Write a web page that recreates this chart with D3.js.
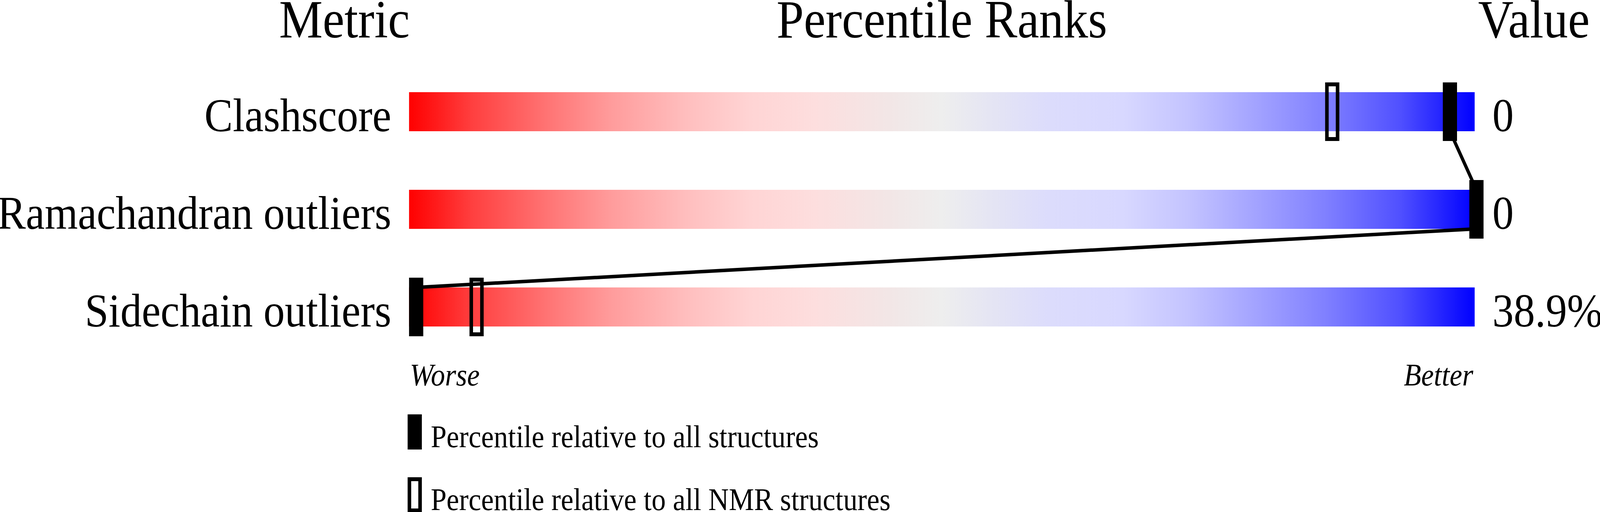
<!DOCTYPE html>
<html>
<head>
<meta charset="utf-8">
<script src="https://cdn.jsdelivr.net/npm/d3@7/dist/d3.min.js"></script>
<style>
  html, body { margin: 0; padding: 0; background: #ffffff; width: 100%; height: 100%; overflow: hidden; }
  #chart { width: 100vw; height: 100vh; }
  svg { display: block; width: 100%; height: 100%; }
  text { font-family: "Liberation Serif", "Times New Roman", serif; fill: #000; }
</style>
</head>
<body>
<div id="chart"></div>
<script>
// ---- data ----
const metrics = ["Clashscore", "Ramachandran outliers", "Sidechain outliers"];
const valueLabels = ["0", "0", "38.9%"];
const percentileAll = [97.5, 100, 0];      // filled markers
const percentileNMR = [86.4, null, 5.7];   // open markers
const headers = ["Metric", "Percentile Ranks", "Value"];
const axisEnds = ["Worse", "Better"];
const legendLabels = ["Percentile relative to all structures", "Percentile relative to all NMR structures"];

// ---- layout (drawn in the reference's 4506x1311 space, fitted to the window) ----
const W = 4506, H = 1311;
const trackX0 = 1152, trackX1 = 4153;
const barH = 100, markerW = 40, markerH = 150;

const svg = d3.select("#chart").append("svg")
  .attr("viewBox", `0 0 ${W} ${H}`)
  .attr("preserveAspectRatio", "none");

svg.append("rect").attr("width", W).attr("height", H).attr("fill", "#fff");

// gradient
const stops = [
  [0.00, "#ff0000"], [0.06, "#ff4040"], [0.13, "#ff7474"], [0.19, "#ff9c9c"],
  [0.26, "#ffbebe"], [0.32, "#ffd4d4"], [0.38, "#fddede"], [0.45, "#f2e6e6"],
  [0.50, "#eeeeee"], [0.55, "#e4e4f4"], [0.60, "#dcdcfc"], [0.67, "#d8d8ff"],
  [0.73, "#c4c4ff"], [0.80, "#a0a0ff"], [0.86, "#8080ff"], [0.93, "#5050ff"],
  [1.00, "#0000ff"]
];
const grad = svg.append("defs").append("linearGradient")
  .attr("id", "slider").attr("x1", "0%").attr("x2", "100%").attr("y1", "0%").attr("y2", "0%");
grad.selectAll("stop").data(stops).join("stop")
  .attr("offset", d => d[0]).attr("stop-color", d => d[1]);

// scales
const y = d3.scalePoint().domain(metrics).range([286, 786]);
const x = d3.scaleLinear().domain([0, 100]).range([trackX0 + markerW / 2, trackX1 + 5]);

// headers
const headerX = [970, (trackX0 + trackX1) / 2, 4320];
svg.selectAll("text.header").data(headers).join("text")
  .attr("class", "header")
  .attr("x", (d, i) => headerX[i]).attr("y", 96)
  .attr("text-anchor", "middle")
  .attr("font-size", 138)
  .text(d => d);

// metric labels
svg.selectAll("text.metric").data(metrics).join("text")
  .attr("class", "metric")
  .attr("x", 1102).attr("y", d => y(d) + 50)
  .attr("text-anchor", "end")
  .attr("font-size", 120)
  .text(d => d);

// bars
svg.selectAll("rect.bar").data(metrics).join("rect")
  .attr("class", "bar")
  .attr("x", trackX0).attr("width", trackX1 - trackX0)
  .attr("y", d => y(d) - barH / 2).attr("height", barH)
  .attr("fill", "url(#slider)");

// value labels
svg.selectAll("text.value").data(metrics).join("text")
  .attr("class", "value")
  .attr("x", 4203).attr("y", d => y(d) + 50)
  .attr("font-size", 120)
  .text((d, i) => valueLabels[i]);

// NMR (open) markers
const nmr = metrics.map((m, i) => ({ m, p: percentileNMR[i] })).filter(d => d.p != null);
svg.selectAll("rect.nmr").data(nmr).join("rect")
  .attr("class", "nmr")
  .attr("x", d => x(d.p) - markerW / 2 + 5).attr("width", markerW - 10)
  .attr("y", d => y(d.m) - markerH / 2 + 5).attr("height", markerH - 10)
  .attr("fill", "none").attr("stroke", "#000").attr("stroke-width", 10);

// connecting lines between "all" markers
const all = metrics.map((m, i) => ({ m, p: percentileAll[i] }));
const segs = d3.pairs(all);
svg.selectAll("line.link").data(segs).join("line")
  .attr("class", "link")
  .attr("x1", d => x(d[0].p)).attr("y1", d => y(d[0].m) + barH / 2)
  .attr("x2", d => x(d[1].p)).attr("y2", d => y(d[1].m) - barH / 2)
  .attr("stroke", "#000").attr("stroke-width", 9);

// filled markers
svg.selectAll("rect.all").data(all).join("rect")
  .attr("class", "all")
  .attr("x", d => x(d.p) - markerW / 2).attr("width", markerW)
  .attr("y", d => y(d.m) - markerH / 2).attr("height", markerH)
  .attr("fill", "#000");

// Worse / Better
svg.append("text").attr("x", trackX0 + 2).attr("y", 987)
  .attr("font-size", 80).attr("font-style", "italic").text(axisEnds[0]);
svg.append("text").attr("x", trackX1 - 4).attr("y", 987)
  .attr("text-anchor", "end")
  .attr("font-size", 80).attr("font-style", "italic").text(axisEnds[1]);

// legend
const legY = [1061, 1222];
svg.append("rect").attr("x", 1148).attr("y", legY[0]).attr("width", markerW).attr("height", 90).attr("fill", "#000");
svg.append("rect").attr("x", 1153).attr("y", legY[1] + 5).attr("width", markerW - 10).attr("height", 80)
  .attr("fill", "none").attr("stroke", "#000").attr("stroke-width", 10);
svg.selectAll("text.legend").data(legendLabels).join("text")
  .attr("class", "legend")
  .attr("x", 1213).attr("y", (d, i) => legY[i] + 84)
  .attr("font-size", 80)
  .text(d => d);
</script>
</body>
</html>
